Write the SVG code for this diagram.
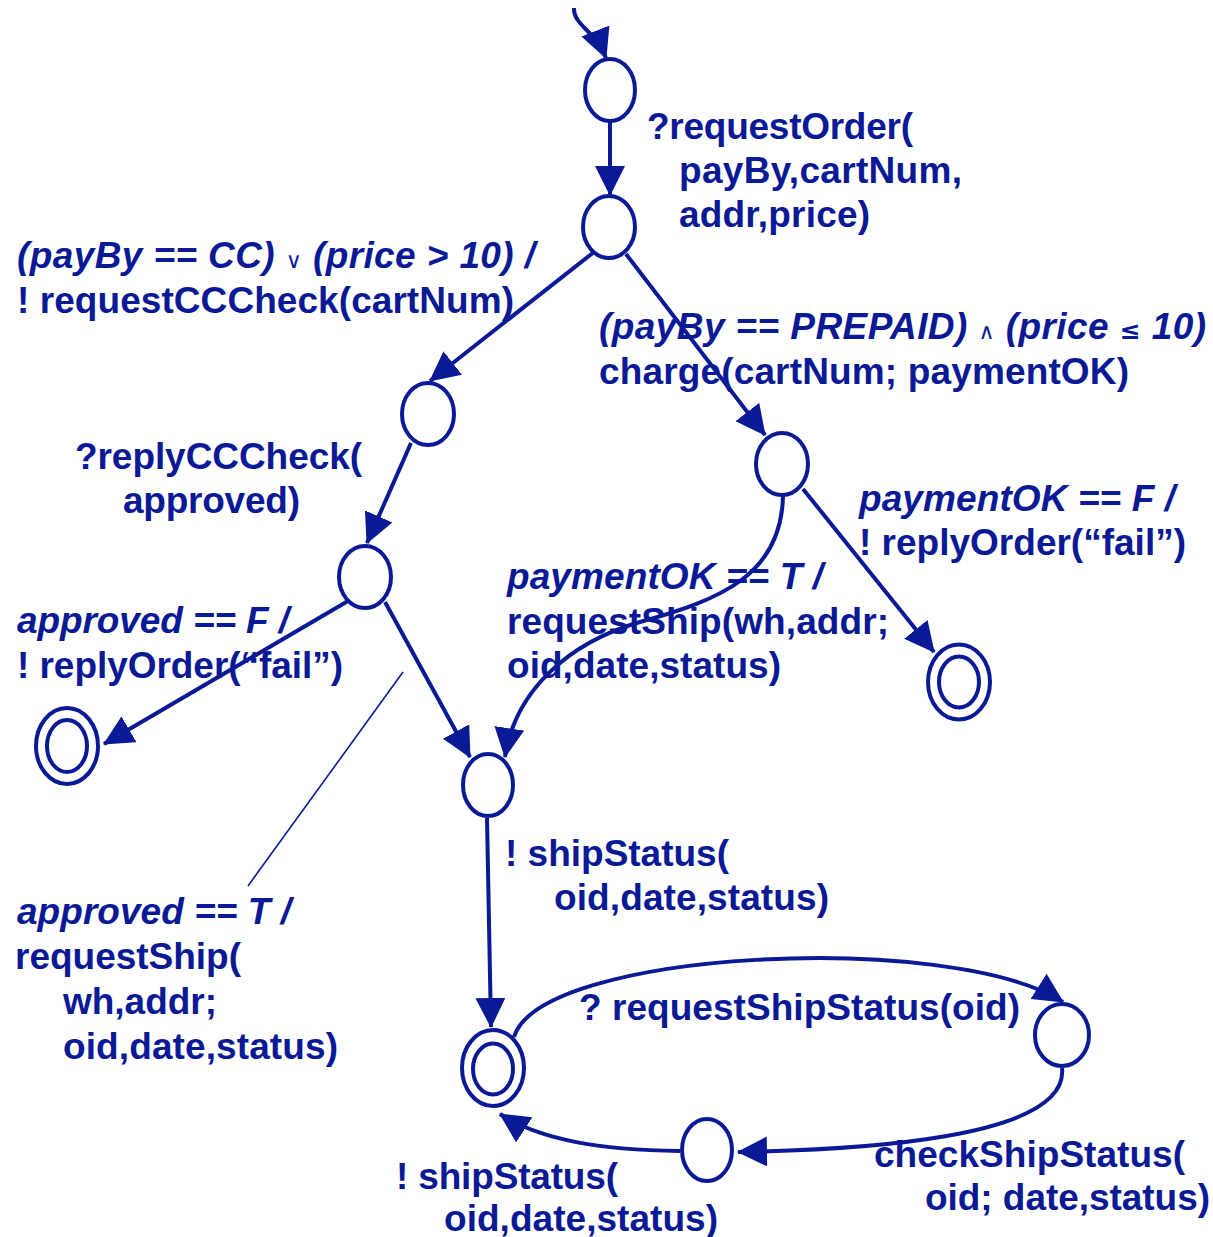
<svg xmlns="http://www.w3.org/2000/svg" width="1213" height="1237" viewBox="0 0 1213 1237">
<style>
.st{fill:none;stroke:#0a1996;stroke-width:4}
.e{fill:none;stroke:#0a1996;stroke-width:4}
.thin{fill:none;stroke:#0a1996;stroke-width:1.6}
text{font-family:"Liberation Sans",Arial,sans-serif;font-weight:bold;font-size:37px;fill:#0a1996}
.i{font-style:italic}
.sym{font-family:"DejaVu Sans",sans-serif;font-style:normal;font-weight:normal;font-size:22px}
.le{font-family:"DejaVu Sans",sans-serif;font-style:normal;font-weight:bold;font-size:25px}
</style>
<defs>
<marker id="ah" viewBox="0 0 30 30" refX="29" refY="15" markerWidth="30" markerHeight="30" markerUnits="userSpaceOnUse" orient="auto">
<path d="M0,0 L30,15 L0,30 z" fill="#0a1996"/>
</marker>
</defs>
<rect width="1213" height="1237" fill="#ffffff"/>
<g id="connectors">
<path class="e" d="M574,8 C573,25 595,30 606,58" marker-end="url(#ah)"/>
<path class="e" d="M610,122 L610,195" marker-end="url(#ah)"/>
<path class="e" d="M594,252 L430,381" marker-end="url(#ah)"/>
<path class="e" d="M626,254 L765,435" marker-end="url(#ah)"/>
<path class="e" d="M411,443 L367,543" marker-end="url(#ah)"/>
<path class="e" d="M803,489 L934,652" marker-end="url(#ah)"/>
<path class="e" d="M783,495 C782,575 720,600 640,622 C570,642 515,690 505,757" marker-end="url(#ah)"/>
<path class="e" d="M348,601 L104,744" marker-end="url(#ah)"/>
<path class="e" d="M385,602 L470,757" marker-end="url(#ah)"/>
<path class="thin" d="M403,672 L248,886"/>
<path class="e" d="M487,818 L491,1027" marker-end="url(#ah)"/>
<path class="e" d="M514,1037 C540,950 950,930 1063,1002" marker-end="url(#ah)"/>
<path class="e" d="M1062,1068 C1070,1140 850,1150 738,1152" marker-end="url(#ah)"/>
<path class="e" d="M680,1151 C600,1150 540,1140 500,1114" marker-end="url(#ah)"/>
</g>
<g id="n1"><ellipse class="st" cx="610" cy="90" rx="25" ry="31"/></g>
<g id="n2"><ellipse class="st" cx="609" cy="227" rx="26" ry="31"/></g>
<g id="n3"><ellipse class="st" cx="428" cy="414" rx="26" ry="31"/></g>
<g id="n4"><ellipse class="st" cx="782" cy="464" rx="26" ry="31"/></g>
<g id="n5"><ellipse class="st" cx="365" cy="577" rx="26" ry="31"/></g>
<g id="n6"><ellipse class="st" cx="67" cy="746" rx="31" ry="38"/><ellipse class="st" cx="67" cy="746" rx="20" ry="26"/></g>
<g id="n7"><ellipse class="st" cx="488" cy="785" rx="25" ry="31"/></g>
<g id="n8"><ellipse class="st" cx="959" cy="682" rx="31" ry="37.5"/><ellipse class="st" cx="959" cy="682" rx="20" ry="25.5"/></g>
<g id="n9"><ellipse class="st" cx="493" cy="1068" rx="31" ry="38"/><ellipse class="st" cx="493" cy="1069" rx="20" ry="25.5"/></g>
<g id="n10"><ellipse class="st" cx="1062" cy="1035" rx="27" ry="31"/></g>
<g id="n11"><ellipse class="st" cx="707" cy="1150" rx="25" ry="31"/></g>
<g id="labels">
<text x="647" y="139" textLength="266">?requestOrder(</text>
<text x="679" y="183" textLength="283">payBy,cartNum,</text>
<text x="679" y="227" textLength="191">addr,price)</text>
<text x="17" y="268" class="i" textLength="518">(payBy == CC) <tspan class="sym">∨</tspan> (price &gt; 10) /</text>
<text x="17" y="313" textLength="497">! requestCCCheck(cartNum)</text>
<text x="599" y="339" class="i" textLength="607">(payBy == PREPAID) <tspan class="sym">∧</tspan> (price <tspan class="le">≤</tspan> 10)</text>
<text x="599" y="384" textLength="530">charge(cartNum; paymentOK)</text>
<text x="75" y="469" textLength="287">?replyCCCheck(</text>
<text x="123" y="513" textLength="177">approved)</text>
<text x="859" y="511" class="i" textLength="316">paymentOK == F /</text>
<text x="859" y="555" textLength="327">! replyOrder(“fail”)</text>
<text x="507" y="589" class="i" textLength="316">paymentOK == T /</text>
<text x="507" y="634" textLength="382">requestShip(wh,addr;</text>
<text x="507" y="678" textLength="274">oid,date,status)</text>
<text x="17" y="633" class="i" textLength="272">approved == F /</text>
<text x="17" y="678" textLength="326">! replyOrder(“fail”)</text>
<text x="505" y="866" textLength="224">! shipStatus(</text>
<text x="554" y="910" textLength="275">oid,date,status)</text>
<text x="17" y="924" class="i" textLength="274">approved == T /</text>
<text x="15" y="969" textLength="226">requestShip(</text>
<text x="63" y="1014" textLength="154">wh,addr;</text>
<text x="63" y="1059" textLength="275">oid,date,status)</text>
<text x="579" y="1020" textLength="441">? requestShipStatus(oid)</text>
<text x="874" y="1167" textLength="311">checkShipStatus(</text>
<text x="925" y="1210" textLength="285">oid; date,status)</text>
<text x="396" y="1189" textLength="222">! shipStatus(</text>
<text x="444" y="1231" textLength="274">oid,date,status)</text>
</g>
</svg>
